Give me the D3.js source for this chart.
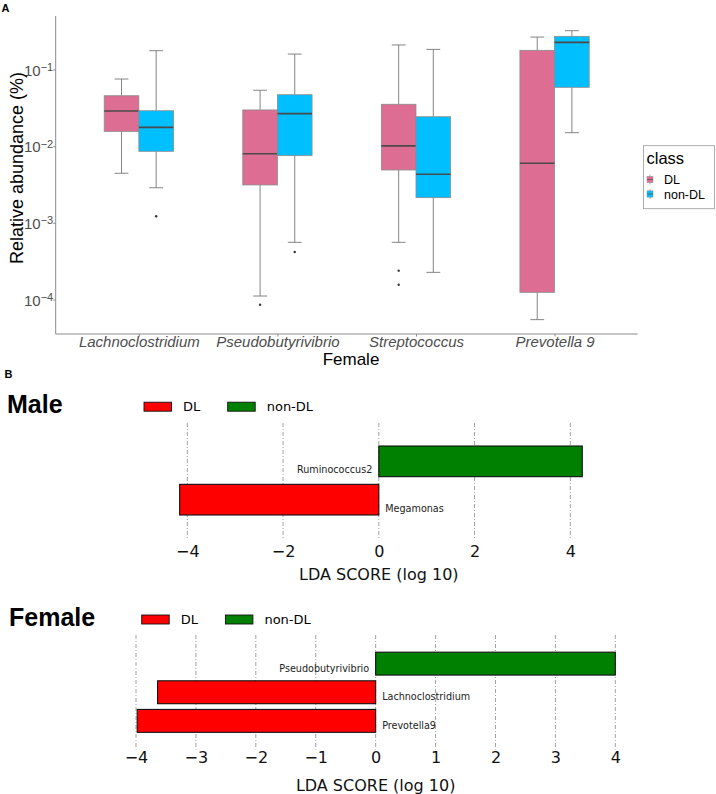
<!DOCTYPE html>
<html><head><meta charset="utf-8">
<script src="https://cdn.jsdelivr.net/npm/d3@7"></script>
<style>body{margin:0;background:#fff} svg{display:block}</style>
</head><body>
<svg id="chart" width="716" height="794"></svg>
<script>
// ---------- Panel A data (Female, relative abundance %) ----------
const genera = ["Lachnoclostridium", "Pseudobutyrivibrio", "Streptococcus", "Prevotella 9"];
const classes = ["DL", "non-DL"];
const dlWhiskerLow  = [0.00443, 0.000111, 0.000557, 0.0000546];
const dlQ1          = [0.0156, 0.00312, 0.00489, 0.000124];
const dlMedian      = [0.0288, 0.00798, 0.0101, 0.00598];
const dlQ3          = [0.0455, 0.0297, 0.0352, 0.178];
const dlWhiskerHigh = [0.0752, 0.0536, 0.209, 0.265];
const dlOutliers    = [[], [0.0000855], [0.000238, 0.000156], []];
const nonWhiskerLow  = [0.00287, 0.000557, 0.000226, 0.0150];
const nonQ1          = [0.00857, 0.00752, 0.00213, 0.0586];
const nonMedian      = [0.0176, 0.0266, 0.0043, 0.226];
const nonQ3          = [0.0290, 0.0469, 0.0242, 0.271];
const nonWhiskerHigh = [0.176, 0.159, 0.183, 0.321];
const nonOutliers    = [[0.00122], [0.000417], [], []];
const yTickValues = [1e-1, 1e-2, 1e-3, 1e-4];
const yTickExponents = ["\u22121", "\u22122", "\u22123", "\u22124"];

// ---------- Panel B data (LEfSe LDA scores) ----------
const maleTaxa = ["Ruminococcus2", "Megamonas"];
const maleLDA = [4.25, -4.16];
const maleTicks = [-4, -2, 0, 2, 4];
const femaleTaxa = ["Pseudobutyrivibrio", "Lachnoclostridium", "Prevotella9"];
const femaleLDA = [4.0, -3.64, -3.98];
const femaleTicks = [-4, -3, -2, -1, 0, 1, 2, 3, 4];

// ---------- styles ----------
const pink = "#DD6D92", cyan = "#00BFFF";
const axisGray = "#8a8a8a", textGray = "#4d4d4d";
const sansA = "'Liberation Sans', Arial, Helvetica, sans-serif";
const sansB = "'DejaVu Sans', sans-serif";

const svg = d3.select("#chart");

// ================= Panel A =================
const x = d3.scalePoint().domain(genera).range([55.7, 637.7]).padding(0.6);
const y = d3.scaleLog().domain([Math.pow(10, -4.45), Math.pow(10, -0.302)]).range([334, 16]);
const step = x.step();
const bw = step * 0.25;
const dodge = d3.scaleBand().domain(classes).range([-bw, bw]);

svg.append("text").attr("x", 1.5).attr("y", 11.5).text("A")
  .attr("font-family", sansA).attr("font-weight", "bold").attr("font-size", 11);

// axes
const gy = svg.append("g").attr("transform", "translate(55.7,0)")
  .call(d3.axisLeft(y).tickValues(yTickValues).tickSize(2.5).tickFormat(""));
gy.select(".domain").attr("stroke", axisGray).attr("d", "M0,16V334");
gy.selectAll(".tick line").attr("stroke", axisGray);
gy.selectAll(".tick").each(function(d, i) {
  const t = d3.select(this).append("text")
    .attr("x", -2.5).attr("y", 5.5).attr("text-anchor", "end")
    .attr("fill", textGray).attr("font-family", sansA).attr("font-size", 15);
  t.append("tspan").text("10");
  t.append("tspan").attr("dy", -4.5).attr("font-size", 11).text(yTickExponents[i]);
});

const gx = svg.append("g").attr("transform", "translate(0,334)")
  .call(d3.axisBottom(x).tickSize(2.5).tickFormat(""));
gx.select(".domain").attr("stroke", axisGray).attr("d", "M55.7,0H637.7");
gx.selectAll(".tick line").attr("stroke", axisGray);
gx.selectAll(".tick").append("text").attr("y", 13).attr("text-anchor", "middle")
  .attr("fill", textGray).attr("font-family", sansA).attr("font-size", 15)
  .attr("font-style", "italic").text(d => d);

svg.append("text").attr("x", 351).attr("y", 365).attr("text-anchor", "middle")
  .attr("font-family", sansA).attr("font-size", 17).text("Female");
svg.append("text").attr("transform", "translate(23,168) rotate(-90)")
  .attr("text-anchor", "middle").attr("font-family", sansA).attr("font-size", 18)
  .text("Relative abundance (%)");

// boxes
const boxData = [];
genera.forEach((g, i) => {
  boxData.push({g, cls: "DL", col: pink, lo: dlWhiskerLow[i], q1: dlQ1[i], med: dlMedian[i], q3: dlQ3[i], hi: dlWhiskerHigh[i], out: dlOutliers[i]});
  boxData.push({g, cls: "non-DL", col: cyan, lo: nonWhiskerLow[i], q1: nonQ1[i], med: nonMedian[i], q3: nonQ3[i], hi: nonWhiskerHigh[i], out: nonOutliers[i]});
});
const capW = bw * 0.4;
const boxes = svg.append("g").selectAll("g").data(boxData).join("g")
  .attr("transform", d => `translate(${x(d.g) + dodge(d.cls) + bw / 2},0)`);
boxes.append("line").attr("y1", d => y(d.hi)).attr("y2", d => y(d.q3)).attr("stroke", "#777").attr("stroke-width", 0.9);
boxes.append("line").attr("y1", d => y(d.q1)).attr("y2", d => y(d.lo)).attr("stroke", "#777").attr("stroke-width", 0.9);
boxes.append("line").attr("x1", -capW / 2).attr("x2", capW / 2).attr("y1", d => y(d.hi)).attr("y2", d => y(d.hi)).attr("stroke", "#777").attr("stroke-width", 0.9);
boxes.append("line").attr("x1", -capW / 2).attr("x2", capW / 2).attr("y1", d => y(d.lo)).attr("y2", d => y(d.lo)).attr("stroke", "#777").attr("stroke-width", 0.9);
boxes.append("rect").attr("x", -bw / 2).attr("width", bw)
  .attr("y", d => y(d.q3)).attr("height", d => y(d.q1) - y(d.q3))
  .attr("fill", d => d.col).attr("stroke", "#8c8c8c").attr("stroke-width", 0.8);
boxes.append("line").attr("x1", -bw / 2).attr("x2", bw / 2)
  .attr("y1", d => y(d.med)).attr("y2", d => y(d.med)).attr("stroke", "#4a4a4a").attr("stroke-width", 1.6);
boxes.selectAll("circle").data(d => d.out).join("circle")
  .attr("cy", d => y(d)).attr("r", 1.2).attr("fill", "#333");

// legend
const lg = svg.append("g");
lg.append("rect").attr("x", 643.5).attr("y", 145.7).attr("width", 71).attr("height", 63)
  .attr("fill", "#fff").attr("stroke", "#9a9a9a").attr("stroke-width", 0.8);
lg.append("text").attr("x", 646.5).attr("y", 163.5).attr("font-family", sansA).attr("font-size", 16.5).text("class");
classes.forEach((c, i) => {
  const cy = 179.5 + i * 14.5;
  const k = lg.append("g").attr("transform", `translate(650,${cy})`);
  k.append("line").attr("y1", -5).attr("y2", 5).attr("stroke", "#888").attr("stroke-width", 0.7);
  k.append("rect").attr("x", -3).attr("y", -3.2).attr("width", 6).attr("height", 6.4)
    .attr("fill", i === 0 ? pink : cyan).attr("stroke", "#999").attr("stroke-width", 0.5);
  k.append("line").attr("x1", -3).attr("x2", 3).attr("stroke", "#555").attr("stroke-width", 0.8);
  lg.append("text").attr("x", 664).attr("y", cy + 4.5).attr("font-family", sansA).attr("font-size", 12.5).text(c);
});

// ================= Panel B =================
svg.append("text").attr("x", 4.5).attr("y", 377.5).text("B")
  .attr("font-family", sansA).attr("font-weight", "bold").attr("font-size", 11);

function ldaPanel(opts) {
  const {title, titleX, titleY, legendY, legendX, taxa, values, ticks, xRange, yRange, tickY, labelY} = opts;
  const g = svg.append("g");
  g.append("text").attr("x", titleX).attr("y", titleY).attr("font-family", sansA)
    .attr("font-weight", "bold").attr("font-size", 25).text(title);
  // legend
  [["DL", "#FF0000"], ["non-DL", "#008000"]].forEach(([lab, col], i) => {
    const lx = legendX + i * 83.7;
    g.append("rect").attr("x", lx).attr("y", legendY - 4.5).attr("width", 27.5).attr("height", 9)
      .attr("fill", col).attr("stroke", "#111").attr("stroke-width", 0.9);
    g.append("text").attr("x", lx + 39).attr("y", legendY + 4.5).attr("font-family", sansB)
      .attr("font-size", 13).text(lab);
  });
  const xs = d3.scaleLinear().domain([d3.min(ticks), d3.max(ticks)]).range(xRange);
  const ys = d3.scalePoint().domain(taxa).range(yRange).padding(1);
  const bh = ys.step() * 0.8;
  // grid
  g.append("g").selectAll("line").data(ticks).join("line")
    .attr("x1", d => xs(d)).attr("x2", d => xs(d))
    .attr("y1", yRange[0]).attr("y2", yRange[1])
    .attr("stroke", "#555").attr("stroke-width", 0.55).attr("stroke-dasharray", "4,2,1,2");
  // bars
  const data = taxa.map((t, i) => ({t, v: values[i]}));
  g.append("g").selectAll("rect").data(data).join("rect")
    .attr("x", d => xs(Math.min(0, d.v))).attr("width", d => Math.abs(xs(d.v) - xs(0)))
    .attr("y", d => ys(d.t) - bh / 2).attr("height", bh)
    .attr("fill", d => d.v > 0 ? "#008000" : "#FF0000")
    .attr("stroke", "#111").attr("stroke-width", 1.1);
  g.append("g").selectAll("text").data(data).join("text")
    .attr("x", d => d.v > 0 ? xs(0) - 6.5 : xs(0) + 6.5)
    .attr("y", d => ys(d.t) + bh / 2 - 3.5)
    .attr("text-anchor", d => d.v > 0 ? "end" : "start")
    .attr("font-family", "'DejaVu Sans Condensed', 'DejaVu Sans', sans-serif")
    .attr("font-stretch", "condensed").attr("font-size", 10.7).attr("fill", "#222")
    .text(d => d.t);
  // ticks
  const ax = g.append("g").attr("transform", `translate(0,${tickY})`)
    .call(d3.axisBottom(xs).tickValues(ticks).tickSize(0).tickPadding(0));
  ax.select(".domain").remove();
  ax.selectAll("text").attr("y", 0).attr("dy", 0).attr("font-family", sansB)
    .attr("font-size", 16).attr("fill", "#111");
  g.append("text").attr("x", xs(0)).attr("y", labelY).attr("text-anchor", "middle")
    .attr("font-family", sansB).attr("font-size", 16).attr("fill", "#111")
    .text("LDA SCORE (log 10)");
}

ldaPanel({title: "Male", titleX: 7, titleY: 413.3, legendY: 406.7, legendX: 144, taxa: maleTaxa, values: maleLDA,
  ticks: maleTicks, xRange: [187.3, 570.3], yRange: [423, 538], tickY: 556.5, labelY: 580});
ldaPanel({title: "Female", titleX: 9, titleY: 625.7, legendY: 619.5, legendX: 141.7, taxa: femaleTaxa, values: femaleLDA,
  ticks: femaleTicks, xRange: [136, 615.3], yRange: [635, 749.5], tickY: 763, labelY: 790.5});
</script>
</body></html>
